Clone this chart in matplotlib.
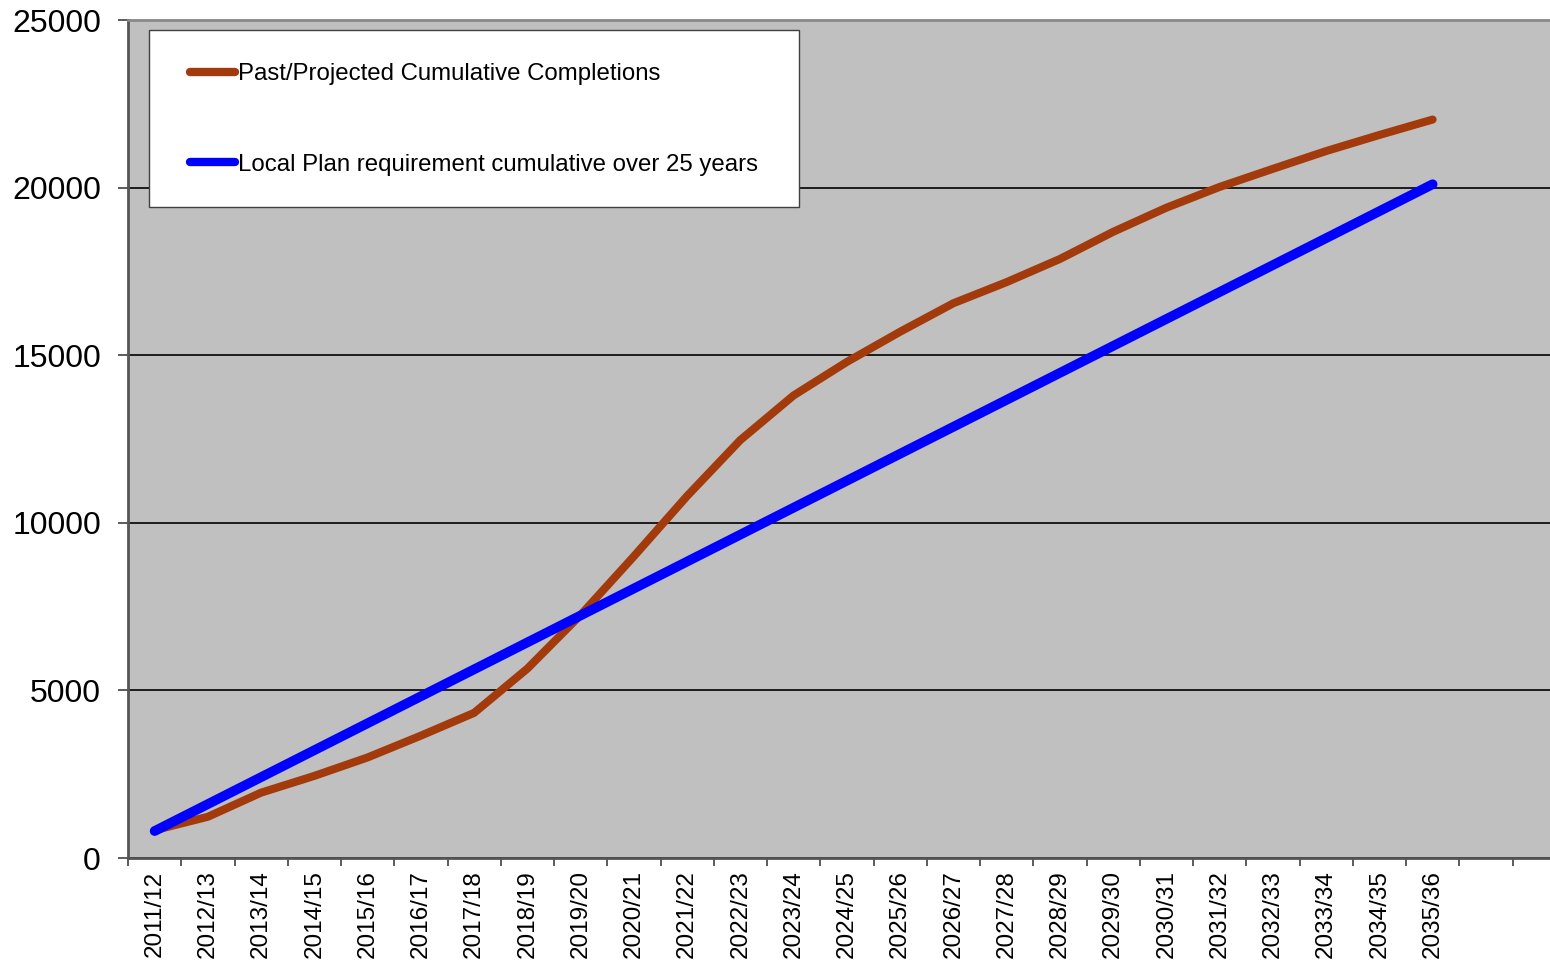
import numpy as np
import matplotlib.pyplot as plt
from matplotlib.patches import Rectangle

plt.rcParams['font.family'] = ['Liberation Sans', 'DejaVu Sans']

years = ['2011/12', '2012/13', '2013/14', '2014/15', '2015/16', '2016/17', '2017/18',
         '2018/19', '2019/20', '2020/21', '2021/22', '2022/23', '2023/24', '2024/25',
         '2025/26', '2026/27', '2027/28', '2028/29', '2029/30', '2030/31', '2031/32',
         '2032/33', '2033/34', '2034/35', '2035/36']

# cumulative completions (past + projected)
completions = [830, 1230, 1950, 2450, 3000, 3650, 4330, 5650, 7250, 9000, 10800,
               12470, 13800, 14800, 15700, 16550, 17180, 17870, 18680, 19400, 20020,
               20560, 21090, 21570, 22030]

# local plan requirement, 804 dwellings a year
requirement = [804, 1608, 2412, 3216, 4020, 4824, 5628, 6432, 7236, 8040, 8844, 9648,
               10452, 11256, 12060, 12864, 13668, 14472, 15276, 16080, 16884, 17688,
               18492, 19296, 20100]

labels = ['Past/Projected Cumulative Completions',
          'Local Plan requirement cumulative over 25 years']

W, H = 1550, 960
fig = plt.figure(figsize=(W / 100, H / 100), dpi=100)
ax = fig.add_axes([128 / W, 1 - 858 / H, 27 * 53.25 / W, 838 / H])
ax.set_facecolor('#c0c0c0')

x = np.arange(len(years))
ax.plot(x, completions, color='#a33a0b', lw=5.8, solid_capstyle='round',
        solid_joinstyle='round', label=labels[0], zorder=3)
ax.plot(x, requirement, color='#0000ff', lw=7, solid_capstyle='round',
        label=labels[1], zorder=3)

ax.set_xlim(-0.5, 26.5)
ax.set_ylim(0, 25000)
ax.set_yticks(range(0, 25001, 5000))
ax.yaxis.grid(True, color='black', lw=1.2)
ax.set_axisbelow(True)

# labels at the category centres, tick marks between categories
ax.set_xticks(x)
ax.set_xticklabels(years, rotation=90, fontsize=17.5)
ax.set_xticks(np.arange(-0.5, 27, 1), minor=True)
ax.tick_params(axis='x', which='major', length=0, pad=9)
ax.tick_params(axis='x', which='minor', length=6, width=1.2, color='#404040')
ax.tick_params(axis='y', length=7.5, width=1.2, color='#404040', pad=12,
               labelsize=23)

for side in ['left', 'bottom']:
    ax.spines[side].set_color('#555555')
    ax.spines[side].set_linewidth(2)
ax.spines['top'].set_color('#888888')
ax.spines['top'].set_linewidth(2)
ax.spines['right'].set_visible(False)

# white legend box
box = Rectangle((149 / W, 1 - 207 / H), 650 / W, 177 / H, transform=fig.transFigure,
                facecolor='white', edgecolor='#404040', lw=1, zorder=4,
                clip_on=False)
ax.add_patch(box)

leg = ax.legend(loc='center left', bbox_to_anchor=(190 / W, 1 - 119.5 / H),
                bbox_transform=fig.transFigure, fontsize=17.3, frameon=False,
                borderpad=0, labelspacing=2.85, handlelength=1.87,
                handletextpad=0.12, borderaxespad=0)
leg.set_zorder(5)
for h in leg.get_lines():
    h.set_linewidth(6)
    h.set_solid_capstyle('round')

plt.savefig('out.png', dpi=100)
